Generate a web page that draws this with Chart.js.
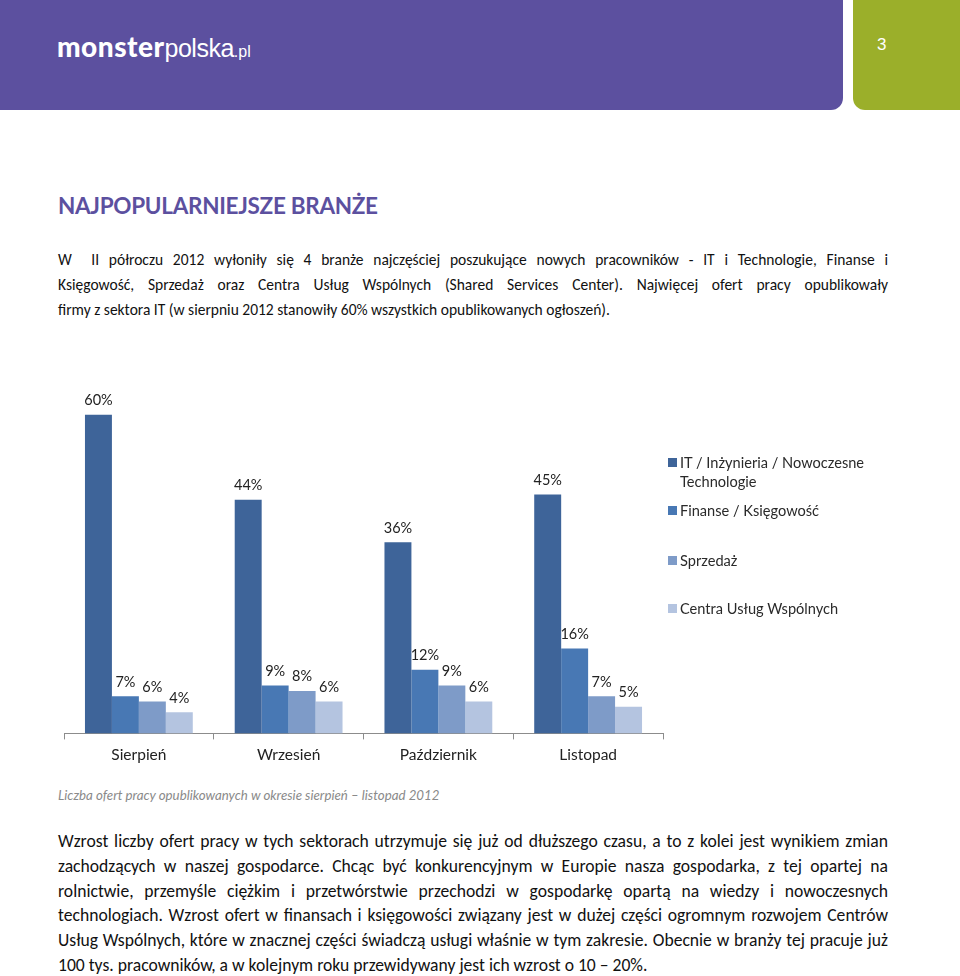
<!DOCTYPE html>
<html>
<head>
<meta charset="utf-8">
<script src="https://cdn.jsdelivr.net/npm/chart.js@4.4.1/dist/chart.umd.min.js"></script>
<style>
  body { margin: 0; width: 960px; height: 976px; background: #fff; position: relative; overflow: hidden;
         font-family: Carlito, Calibri, Lato, sans-serif; color: #111; }
  .head { position: absolute; top: 0; left: 0; width: 843px; height: 110px; background: #5c509f; border-bottom-right-radius: 12px; }
  .pagebox { position: absolute; top: 0; left: 853px; width: 107px; height: 110px; background: #9baf2a; border-bottom-left-radius: 12px; }
  .logo { position: absolute; left: 57px; top: 29px; color: #fff; white-space: nowrap; }
  .logo b { font-family: Lato, sans-serif; font-weight: 900; font-size: 28px; letter-spacing: 0.5px; }
  .logo span { font-family: "Liberation Sans", Arial, sans-serif; font-size: 25px; letter-spacing: -0.5px; }
  .logo small { font-family: "Liberation Sans", Arial, sans-serif; font-size: 16px; }
  .pagenum { position: absolute; left: 877px; top: 35px; color: #fff; font-family: "Liberation Sans", Arial, sans-serif; font-size: 17px; }
  h1 { position: absolute; left: 58px; top: 192px; margin: 0; font-family: Lato, sans-serif; font-weight: 700;
       font-size: 22.5px; color: #5c509f; letter-spacing: -0.3px; }
  .para { position: absolute; left: 58px; width: 830px; font-size: 15.5px; line-height: 24.8px; }
  .para.big { font-size: 17.6px; }
  .para div { text-align: justify; text-align-last: justify; white-space: nowrap; }
  .para div.last { text-align-last: left; }
  .caption { position: absolute; left: 58px; top: 787px; font-style: italic; font-size: 13.3px; color: #8a8a8a; font-family: Lato, sans-serif; }
  #chartBox { position: absolute; left: 0; top: 360px; width: 680px; height: 410px; }
  #legend { position: absolute; left: 668px; top: 453px; font-family: Lato, sans-serif; font-size: 14.6px; color: #2a2a2a; }
  #legend .item { position: absolute; left: 0; white-space: nowrap; line-height: 19px; }
  #legend .sw { position: absolute; left: 0; top: 5px; width: 9px; height: 9px; }
  #legend .tx { margin-left: 12px; }
</style>
</head>
<body>
<div class="head"><div class="logo"><b>monster</b><span>polska</span><small>.pl</small></div></div>
<div class="pagebox"></div>
<div class="pagenum">3</div>

<h1>NAJPOPULARNIEJSZE BRANŻE</h1>

<div class="para" style="top:248px">
  <div>W&nbsp; II półroczu 2012 wyłoniły się 4 branże najczęściej poszukujące nowych pracowników - IT i Technologie, Finanse i</div>
  <div>Księgowość, Sprzedaż oraz Centra Usług Wspólnych (Shared Services Center). Najwięcej ofert pracy opublikowały</div>
  <div class="last">firmy z sektora IT (w sierpniu 2012 stanowiły 60% wszystkich opublikowanych ogłoszeń).</div>
</div>

<div id="chartBox"><canvas id="chart"></canvas></div>
<div id="legend"></div>

<div class="caption">Liczba ofert pracy opublikowanych w okresie sierpień – listopad 2012</div>

<div class="para big" style="top:829px">
  <div>Wzrost liczby ofert pracy w tych sektorach utrzymuje się już od dłuższego czasu, a to z kolei jest wynikiem zmian</div>
  <div>zachodzących w naszej gospodarce. Chcąc być konkurencyjnym w Europie nasza gospodarka, z tej opartej na</div>
  <div>rolnictwie, przemyśle ciężkim i przetwórstwie przechodzi w gospodarkę opartą na wiedzy i nowoczesnych</div>
  <div>technologiach. Wzrost ofert w finansach i księgowości związany jest w dużej części ogromnym rozwojem Centrów</div>
  <div>Usług Wspólnych, które w znacznej części świadczą usługi właśnie w tym zakresie. Obecnie w branży tej pracuje już</div>
  <div class="last">100 tys. pracowników, a w kolejnym roku przewidywany jest ich wzrost o 10 – 20%.</div>
</div>

<script>
// months on the x axis
const categories = ['Sierpień', 'Wrzesień', 'Październik', 'Listopad'];

// share of job offers (%)
const itValues = [60, 44, 36, 45];
const financeValues = [7, 9, 12, 16];
const salesValues = [6, 8, 9, 7];
const sscValues = [4, 6, 6, 5];

const seriesNames = [
    ['IT / Inżynieria / Nowoczesne', 'Technologie'],
    ['Finanse / Księgowość'],
    ['Sprzedaż'],
    ['Centra Usług Wspólnych']
];
const seriesColors = ['#3e6499', '#4878b4', '#7e9bc8', '#b4c4e0'];
const legendTops = [0, 48, 98, 146];

// percent labels above bars
const valueLabels = {
    id: 'valueLabels',
    afterDatasetsDraw(chart) {
        const ctx = chart.ctx;
        ctx.save();
        ctx.font = '14.5px Lato, sans-serif';
        ctx.fillStyle = '#222';
        ctx.textAlign = 'center';
        ctx.textBaseline = 'bottom';
        chart.data.datasets.forEach((ds, i) => {
            chart.getDatasetMeta(i).data.forEach((bar, j) => {
                ctx.fillText(ds.data[j] + '%', bar.x, bar.y - 7);
            });
        });
        ctx.restore();
    }
};

const allValues = [itValues, financeValues, salesValues, sscValues];

new Chart(document.getElementById('chart'), {
    type: 'bar',
    data: {
        labels: categories,
        datasets: allValues.map((vals, i) => ({
            label: seriesNames[i].join(' '),
            data: vals,
            backgroundColor: seriesColors[i],
            borderWidth: 0
        }))
    },
    options: {
        responsive: true,
        maintainAspectRatio: false,
        animation: false,
        layout: { padding: { left: 64, right: 17, top: 23, bottom: 0 } },
        plugins: {
            legend: { display: false },
            tooltip: { enabled: false }
        },
        datasets: { bar: { categoryPercentage: 0.72, barPercentage: 1 } },
        scales: {
            x: {
                grid: { display: true, offset: true, drawOnChartArea: false, drawTicks: true, tickLength: 6, color: '#8c8c8c' },
                border: { display: true, color: '#8c8c8c', width: 1 },
                ticks: { color: '#222', font: { family: 'Lato, sans-serif', size: 15.5 }, padding: 6 }
            },
            y: { display: false, min: 0, max: 66 }
        }
    },
    plugins: [valueLabels]
});

// legend built from the series arrays
const legend = document.getElementById('legend');
seriesNames.forEach((name, i) => {
    const item = document.createElement('div');
    item.className = 'item';
    item.style.top = legendTops[i] + 'px';
    item.innerHTML = '<div class="sw" style="background:' + seriesColors[i] + '"></div><div class="tx">' + name.join('<br>') + '</div>';
    legend.appendChild(item);
});
</script>
</body>
</html>
